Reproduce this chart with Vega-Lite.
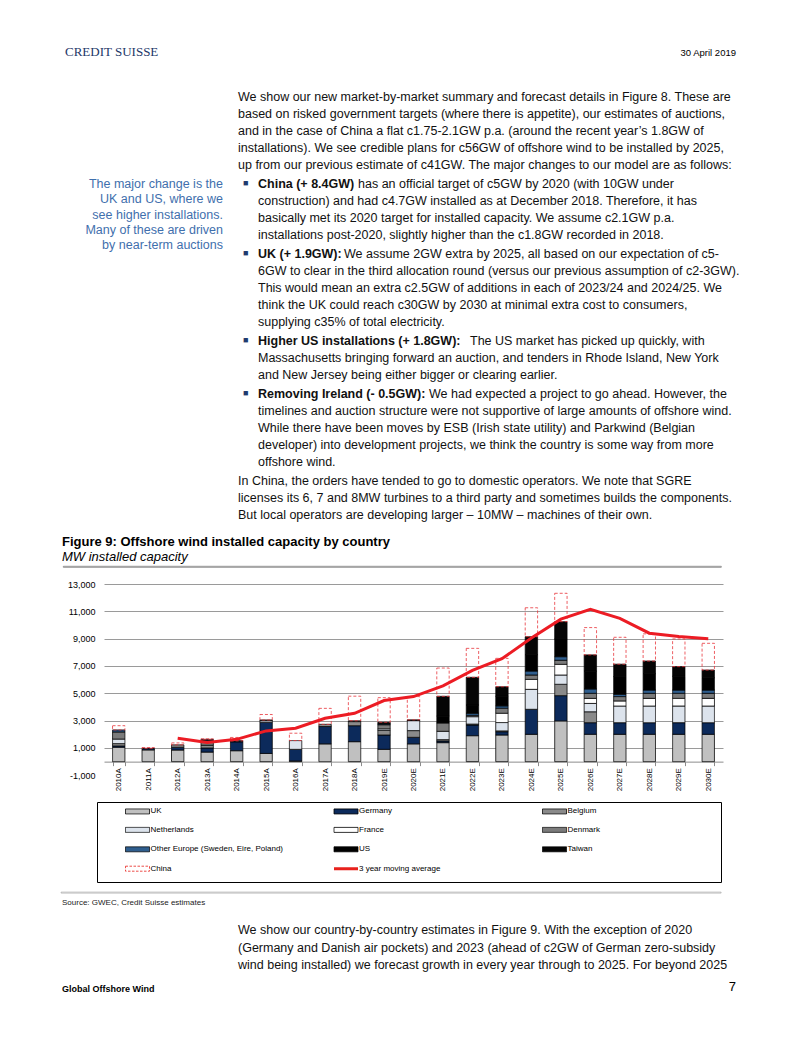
{
"$schema": "https://vega.github.io/schema/vega-lite/v6.json",
"padding": 0,
"background": "white",
"spacing": 0,
"config": {
  "view": {"stroke": null},
  "font": "Liberation Sans",
  "concat": {"spacing": 0},
  "title": {"font": "Liberation Sans", "fontSize": 12.5, "fontWeight": "normal", "color": "#111111", "anchor": "start", "frame": "group", "lineHeight": 17, "subtitleFont": "Liberation Sans", "subtitleFontSize": 12.5, "subtitleColor": "#111111", "subtitleLineHeight": 17},
  "axis": {"labelFont": "Liberation Sans", "labelColor": "#000000"},
  "legend": {"labelFont": "Liberation Sans", "labelColor": "#000000"}
},
"datasets": {
  "series": [
    {"country": "UK", "rank": 1}, {"country": "Germany", "rank": 2}, {"country": "Belgium", "rank": 3},
    {"country": "Netherlands", "rank": 4}, {"country": "France", "rank": 5}, {"country": "Denmark", "rank": 6},
    {"country": "Other Europe (Sweden, Eire, Poland)", "rank": 7}, {"country": "US", "rank": 8},
    {"country": "Taiwan", "rank": 9}, {"country": "China", "rank": 10}
  ],
  "ma": [
    {"year": "2012A", "mw": 1710}, {"year": "2013A", "mw": 1400}, {"year": "2014A", "mw": 1630},
    {"year": "2015A", "mw": 2250}, {"year": "2016A", "mw": 2440}, {"year": "2017A", "mw": 3170},
    {"year": "2018A", "mw": 3540}, {"year": "2019E", "mw": 4470}, {"year": "2020E", "mw": 4760},
    {"year": "2021E", "mw": 5550}, {"year": "2022E", "mw": 6680}, {"year": "2023E", "mw": 7530},
    {"year": "2024E", "mw": 9050}, {"year": "2025E", "mw": 10430}, {"year": "2026E", "mw": 11150},
    {"year": "2027E", "mw": 10490}, {"year": "2028E", "mw": 9400}, {"year": "2029E", "mw": 9150},
    {"year": "2030E", "mw": 8990}
  ],
  "bars": [
    {"year": "2010A", "country": "UK", "mw": 1050}, {"year": "2010A", "country": "Germany", "mw": 100}, {"year": "2010A", "country": "Belgium", "mw": 170}, {"year": "2010A", "country": "Netherlands", "mw": 330}, {"year": "2010A", "country": "Denmark", "mw": 520}, {"year": "2010A", "country": "Other Europe (Sweden, Eire, Poland)", "mw": 150}, {"year": "2010A", "country": "China", "mw": 310},
    {"year": "2011A", "country": "UK", "mw": 860}, {"year": "2011A", "country": "Germany", "mw": 110}, {"year": "2011A", "country": "China", "mw": 60},
    {"year": "2012A", "country": "UK", "mw": 850}, {"year": "2012A", "country": "Germany", "mw": 200}, {"year": "2012A", "country": "Belgium", "mw": 180}, {"year": "2012A", "country": "China", "mw": 140},
    {"year": "2013A", "country": "UK", "mw": 700}, {"year": "2013A", "country": "Germany", "mw": 300}, {"year": "2013A", "country": "Belgium", "mw": 200}, {"year": "2013A", "country": "Denmark", "mw": 350}, {"year": "2013A", "country": "Other Europe (Sweden, Eire, Poland)", "mw": 80}, {"year": "2013A", "country": "China", "mw": 40},
    {"year": "2014A", "country": "UK", "mw": 800}, {"year": "2014A", "country": "Germany", "mw": 650}, {"year": "2014A", "country": "Belgium", "mw": 50}, {"year": "2014A", "country": "Other Europe (Sweden, Eire, Poland)", "mw": 20}, {"year": "2014A", "country": "China", "mw": 250},
    {"year": "2015A", "country": "UK", "mw": 600}, {"year": "2015A", "country": "Germany", "mw": 2280}, {"year": "2015A", "country": "Netherlands", "mw": 120}, {"year": "2015A", "country": "Denmark", "mw": 50}, {"year": "2015A", "country": "China", "mw": 400},
    {"year": "2016A", "country": "UK", "mw": 50}, {"year": "2016A", "country": "Germany", "mw": 850}, {"year": "2016A", "country": "Netherlands", "mw": 640}, {"year": "2016A", "country": "China", "mw": 540},
    {"year": "2017A", "country": "UK", "mw": 1300}, {"year": "2017A", "country": "Germany", "mw": 1270}, {"year": "2017A", "country": "Belgium", "mw": 160}, {"year": "2017A", "country": "China", "mw": 1170},
    {"year": "2018A", "country": "UK", "mw": 1460}, {"year": "2018A", "country": "Germany", "mw": 1170}, {"year": "2018A", "country": "Belgium", "mw": 300}, {"year": "2018A", "country": "Denmark", "mw": 60}, {"year": "2018A", "country": "China", "mw": 1800},
    {"year": "2019E", "country": "UK", "mw": 900}, {"year": "2019E", "country": "Germany", "mw": 1050}, {"year": "2019E", "country": "Belgium", "mw": 330}, {"year": "2019E", "country": "Netherlands", "mw": 120}, {"year": "2019E", "country": "Denmark", "mw": 300}, {"year": "2019E", "country": "Other Europe (Sweden, Eire, Poland)", "mw": 60}, {"year": "2019E", "country": "Taiwan", "mw": 120}, {"year": "2019E", "country": "China", "mw": 1800},
    {"year": "2020E", "country": "UK", "mw": 1300}, {"year": "2020E", "country": "Germany", "mw": 480}, {"year": "2020E", "country": "Belgium", "mw": 490}, {"year": "2020E", "country": "Netherlands", "mw": 730}, {"year": "2020E", "country": "Taiwan", "mw": 60}, {"year": "2020E", "country": "China", "mw": 1700},
    {"year": "2021E", "country": "UK", "mw": 1390}, {"year": "2021E", "country": "Germany", "mw": 120}, {"year": "2021E", "country": "Belgium", "mw": 100}, {"year": "2021E", "country": "Netherlands", "mw": 610}, {"year": "2021E", "country": "Denmark", "mw": 610}, {"year": "2021E", "country": "US", "mw": 500}, {"year": "2021E", "country": "Taiwan", "mw": 1450}, {"year": "2021E", "country": "China", "mw": 2070},
    {"year": "2022E", "country": "UK", "mw": 1900}, {"year": "2022E", "country": "Germany", "mw": 780}, {"year": "2022E", "country": "Belgium", "mw": 70}, {"year": "2022E", "country": "Netherlands", "mw": 540}, {"year": "2022E", "country": "Denmark", "mw": 100}, {"year": "2022E", "country": "Other Europe (Sweden, Eire, Poland)", "mw": 150}, {"year": "2022E", "country": "US", "mw": 600}, {"year": "2022E", "country": "Taiwan", "mw": 2030}, {"year": "2022E", "country": "China", "mw": 2120},
    {"year": "2023E", "country": "UK", "mw": 1950}, {"year": "2023E", "country": "Germany", "mw": 240}, {"year": "2023E", "country": "Belgium", "mw": 60}, {"year": "2023E", "country": "Netherlands", "mw": 610}, {"year": "2023E", "country": "France", "mw": 680}, {"year": "2023E", "country": "Denmark", "mw": 370}, {"year": "2023E", "country": "Other Europe (Sweden, Eire, Poland)", "mw": 170}, {"year": "2023E", "country": "US", "mw": 700}, {"year": "2023E", "country": "Taiwan", "mw": 700}, {"year": "2023E", "country": "China", "mw": 2080},
    {"year": "2024E", "country": "UK", "mw": 2000}, {"year": "2024E", "country": "Germany", "mw": 1830}, {"year": "2024E", "country": "Netherlands", "mw": 1460}, {"year": "2024E", "country": "France", "mw": 730}, {"year": "2024E", "country": "Denmark", "mw": 320}, {"year": "2024E", "country": "Other Europe (Sweden, Eire, Poland)", "mw": 290}, {"year": "2024E", "country": "US", "mw": 1200}, {"year": "2024E", "country": "Taiwan", "mw": 1310}, {"year": "2024E", "country": "China", "mw": 2120},
    {"year": "2025E", "country": "UK", "mw": 2980}, {"year": "2025E", "country": "Germany", "mw": 1850}, {"year": "2025E", "country": "Belgium", "mw": 830}, {"year": "2025E", "country": "Netherlands", "mw": 680}, {"year": "2025E", "country": "France", "mw": 780}, {"year": "2025E", "country": "Denmark", "mw": 300}, {"year": "2025E", "country": "Other Europe (Sweden, Eire, Poland)", "mw": 260}, {"year": "2025E", "country": "US", "mw": 1300}, {"year": "2025E", "country": "Taiwan", "mw": 1260}, {"year": "2025E", "country": "China", "mw": 2080},
    {"year": "2026E", "country": "UK", "mw": 2000}, {"year": "2026E", "country": "Germany", "mw": 850}, {"year": "2026E", "country": "Belgium", "mw": 800}, {"year": "2026E", "country": "Netherlands", "mw": 610}, {"year": "2026E", "country": "France", "mw": 370}, {"year": "2026E", "country": "Denmark", "mw": 370}, {"year": "2026E", "country": "Other Europe (Sweden, Eire, Poland)", "mw": 320}, {"year": "2026E", "country": "US", "mw": 1300}, {"year": "2026E", "country": "Taiwan", "mw": 1190}, {"year": "2026E", "country": "China", "mw": 2000},
    {"year": "2027E", "country": "UK", "mw": 2000}, {"year": "2027E", "country": "Germany", "mw": 850}, {"year": "2027E", "country": "Netherlands", "mw": 1220}, {"year": "2027E", "country": "France", "mw": 370}, {"year": "2027E", "country": "Denmark", "mw": 320}, {"year": "2027E", "country": "Other Europe (Sweden, Eire, Poland)", "mw": 170}, {"year": "2027E", "country": "US", "mw": 1300}, {"year": "2027E", "country": "Taiwan", "mw": 900}, {"year": "2027E", "country": "China", "mw": 1970},
    {"year": "2028E", "country": "UK", "mw": 2000}, {"year": "2028E", "country": "Germany", "mw": 850}, {"year": "2028E", "country": "Netherlands", "mw": 1220}, {"year": "2028E", "country": "France", "mw": 560}, {"year": "2028E", "country": "Denmark", "mw": 370}, {"year": "2028E", "country": "Other Europe (Sweden, Eire, Poland)", "mw": 240}, {"year": "2028E", "country": "US", "mw": 1200}, {"year": "2028E", "country": "Taiwan", "mw": 920}, {"year": "2028E", "country": "China", "mw": 1990},
    {"year": "2029E", "country": "UK", "mw": 2000}, {"year": "2029E", "country": "Germany", "mw": 850}, {"year": "2029E", "country": "Netherlands", "mw": 1220}, {"year": "2029E", "country": "France", "mw": 560}, {"year": "2029E", "country": "Denmark", "mw": 370}, {"year": "2029E", "country": "Other Europe (Sweden, Eire, Poland)", "mw": 240}, {"year": "2029E", "country": "US", "mw": 1000}, {"year": "2029E", "country": "Taiwan", "mw": 710}, {"year": "2029E", "country": "China", "mw": 2030},
    {"year": "2030E", "country": "UK", "mw": 2000}, {"year": "2030E", "country": "Germany", "mw": 850}, {"year": "2030E", "country": "Netherlands", "mw": 1220}, {"year": "2030E", "country": "France", "mw": 560}, {"year": "2030E", "country": "Denmark", "mw": 370}, {"year": "2030E", "country": "Other Europe (Sweden, Eire, Poland)", "mw": 240}, {"year": "2030E", "country": "US", "mw": 900}, {"year": "2030E", "country": "Taiwan", "mw": 560}, {"year": "2030E", "country": "China", "mw": 1960}
  ]
},
"resolve": {"scale": {"color": "independent"}, "legend": {"color": "independent"}},
"vconcat": [
  {"hconcat": [
    {"width": 401, "height": 75, "data": {"values": []}, "mark": {"type": "point", "opacity": 0},
     "title": {"text": "CREDIT SUISSE", "font": "Liberation Serif", "fontSize": 13, "color": "#1d3768", "dx": 65, "offset": -58.9}},
    {"width": 401, "height": 75, "data": {"values": []}, "mark": {"type": "point", "opacity": 0},
     "title": {"text": "30 April 2019", "fontSize": 9.5, "color": "#000000", "anchor": "end", "dx": -66, "offset": -57}}
  ]},
  {"width": 802, "height": 97, "data": {"values": []}, "mark": {"type": "point", "opacity": 0},
   "title": {"text": [
     "We show our new market-by-market summary and forecast details in Figure 8. These are",
     "based on risked government targets (where there is appetite), our estimates of auctions,",
     "and in the case of China a flat c1.75-2.1GW p.a. (around the recent year\u2019s 1.8GW of",
     "installations). We see credible plans for c56GW of offshore wind to be installed by 2025,",
     "up from our previous estimate of c41GW. The major changes to our model are as follows:"
   ], "dx": 238, "offset": -96.6}},
  {"hconcat": [
    {"width": 225, "height": 297, "data": {"values": []}, "mark": {"type": "point", "opacity": 0},
     "title": {"text": ["The major change is the", "UK and US, where we", "see higher installations.", "Many of these are driven", "by near-term auctions"],
       "anchor": "end", "dx": -2, "offset": -79.8, "color": "#3f6fad", "lineHeight": 15.3}},
    {"vconcat": [
      {"hconcat": [
        {"width": 33, "height": 76, "data": {"values": []}, "mark": {"type": "point", "opacity": 0},
         "title": {"text": "\u25a0", "fontSize": 9, "color": "#1f3b6e", "dx": 18, "offset": -16.1}},
        {"vconcat": [
          {"hconcat": [
            {"width": 100, "height": 19, "data": {"values": []}, "mark": {"type": "point", "opacity": 0},
             "title": {"text": "China (+ 8.4GW)", "fontWeight": "bold", "offset": -18.6}},
            {"width": 405, "height": 19, "data": {"values": []}, "mark": {"type": "point", "opacity": 0},
             "title": {"text": "has an official target of c5GW by 2020 (with 10GW under", "offset": -18.6}}
          ]},
          {"width": 505, "height": 57, "data": {"values": []}, "mark": {"type": "point", "opacity": 0},
           "title": {"text": [
             "construction) and had c4.7GW installed as at December 2018. Therefore, it has",
             "basically met its 2020 target for installed capacity. We assume c2.1GW p.a.",
             "installations post-2020, slightly higher than the c1.8GW recorded in 2018."
           ], "offset": -50.6}}
        ]}
      ]},
      {"hconcat": [
        {"width": 33, "height": 87, "data": {"values": []}, "mark": {"type": "point", "opacity": 0},
         "title": {"text": "\u25a0", "fontSize": 9, "color": "#1f3b6e", "dx": 18, "offset": -10}},
        {"vconcat": [
          {"hconcat": [
            {"width": 86, "height": 17, "data": {"values": []}, "mark": {"type": "point", "opacity": 0},
             "title": {"text": "UK (+ 1.9GW):", "fontWeight": "bold", "offset": -12.6}},
            {"width": 419, "height": 17, "data": {"values": []}, "mark": {"type": "point", "opacity": 0},
             "title": {"text": "We assume 2GW extra by 2025, all based on our expectation of c5-", "offset": -12.6}}
          ]},
          {"width": 505, "height": 70, "data": {"values": []}, "mark": {"type": "point", "opacity": 0},
           "title": {"text": [
             "6GW to clear in the third allocation round (versus our previous assumption of c2-3GW).",
             "This would mean an extra c2.5GW of additions in each of 2023/24 and 2024/25. We",
             "think the UK could reach c30GW by 2030 at minimal extra cost to consumers,",
             "supplying c35% of total electricity."
           ], "offset": -63.6}}
        ]}
      ]},
      {"hconcat": [
        {"width": 33, "height": 53, "data": {"values": []}, "mark": {"type": "point", "opacity": 0},
         "title": {"text": "\u25a0", "fontSize": 9, "color": "#1f3b6e", "dx": 18, "offset": -10}},
        {"vconcat": [
          {"hconcat": [
            {"width": 212, "height": 17, "data": {"values": []}, "mark": {"type": "point", "opacity": 0},
             "title": {"text": "Higher US installations (+ 1.8GW):", "fontWeight": "bold", "offset": -12.6}},
            {"width": 293, "height": 17, "data": {"values": []}, "mark": {"type": "point", "opacity": 0},
             "title": {"text": "The US market has picked up quickly, with", "offset": -12.6}}
          ]},
          {"width": 505, "height": 36, "data": {"values": []}, "mark": {"type": "point", "opacity": 0},
           "title": {"text": [
             "Massachusetts bringing forward an auction, and tenders in Rhode Island, New York",
             "and New Jersey being either bigger or clearing earlier."
           ], "offset": -29.6}}
        ]}
      ]},
      {"hconcat": [
        {"width": 33, "height": 81, "data": {"values": []}, "mark": {"type": "point", "opacity": 0},
         "title": {"text": "\u25a0", "fontSize": 9, "color": "#1f3b6e", "dx": 18, "offset": -10}},
        {"vconcat": [
          {"hconcat": [
            {"width": 171, "height": 17, "data": {"values": []}, "mark": {"type": "point", "opacity": 0},
             "title": {"text": "Removing Ireland (- 0.5GW):", "fontWeight": "bold", "offset": -12.6}},
            {"width": 334, "height": 17, "data": {"values": []}, "mark": {"type": "point", "opacity": 0},
             "title": {"text": "We had expected a project to go ahead. However, the", "offset": -12.6}}
          ]},
          {"width": 505, "height": 64, "data": {"values": []}, "mark": {"type": "point", "opacity": 0},
           "title": {"text": [
             "timelines and auction structure were not supportive of large amounts of offshore wind.",
             "While there have been moves by ESB (Irish state utility) and Parkwind (Belgian",
             "developer) into development projects, we think the country is some way from more",
             "offshore wind."
           ], "offset": -63.6}}
        ]}
      ]}
    ]}
  ]},
  {"width": 802, "height": 61, "data": {"values": []}, "mark": {"type": "point", "opacity": 0},
   "title": {"text": [
     "In China, the orders have tended to go to domestic operators. We note that SGRE",
     "licenses its 6, 7 and 8MW turbines to a third party and sometimes builds the components.",
     "But local operators are developing larger \u2013 10MW \u2013 machines of their own."
   ], "dx": 238, "offset": -52.6}},
  {"hconcat": [
    {"width": 62, "height": 35, "data": {"values": []}, "mark": {"type": "point", "opacity": 0}},
    {"width": 658, "height": 35, "data": {"values": []}, "mark": {"type": "point", "opacity": 0},
     "title": {"text": "Figure 9: Offshore wind installed capacity by country", "fontSize": 13, "fontWeight": "bold", "color": "#000000",
       "subtitle": "MW installed capacity", "subtitleFontSize": 13, "subtitleFontStyle": "italic", "subtitleColor": "#000000", "subtitlePadding": 2, "offset": -33.9}}
  ]},
  {"hconcat": [
    {"width": 62, "height": 1, "data": {"values": []}, "mark": {"type": "point", "opacity": 0}},
    {"width": 658, "height": 1, "data": {"values": []}, "mark": {"type": "point", "opacity": 0}, "view": {"stroke": "#7f7f7f", "strokeWidth": 0.8}}
  ]},
  {"width": 10, "height": 12, "data": {"values": []}, "mark": {"type": "point", "opacity": 0}},
  {"hconcat": [
    {"width": 66.5, "height": 10, "data": {"values": []}, "mark": {"type": "point", "opacity": 0}},
    {"width": 619, "height": 191.3,
     "encoding": {
       "x": {"field": "year", "type": "ordinal",
         "scale": {"domain": ["2010A","2011A","2012A","2013A","2014A","2015A","2016A","2017A","2018A","2019E","2020E","2021E","2022E","2023E","2024E","2025E","2026E","2027E","2028E","2029E","2030E"], "paddingInner": 0.58, "paddingOuter": 0.29},
         "axis": {"title": null, "labelAngle": -90, "labelFontSize": 8, "labelPadding": 2, "offset": -13.66, "domainColor": "#8c8c8c", "tickColor": "#8c8c8c", "tickSize": 4, "tickBand": "extent", "grid": false}},
       "y": {"field": "mw", "type": "quantitative",
         "scale": {"domain": [-1000, 13000], "nice": false, "zero": false},
         "axis": {"title": null, "values": [-1000, 1000, 3000, 5000, 7000, 9000, 11000, 13000], "format": ",d", "labelExpr": "replace(datum.label, '\u2212', '-')", "labelFontSize": 9, "labelPadding": 9, "ticks": false, "domain": false, "grid": true, "gridColor": "#9a9a9a",
           "gridOpacity": {"condition": {"test": "datum.value === -1000", "value": 0}, "value": 1}}}
     },
     "layer": [
       {"data": {"name": "bars"},
        "transform": [{"lookup": "country", "from": {"data": {"name": "series"}, "key": "country", "fields": ["rank"]}}],
        "mark": {"type": "bar", "strokeWidth": 0.8},
        "encoding": {
          "color": {"field": "country", "type": "nominal",
            "scale": {"domain": ["UK","Germany","Belgium","Netherlands","France","Denmark","Other Europe (Sweden, Eire, Poland)","US","Taiwan","China","3 year moving average"],
                      "range": ["#c0c0c0","#0c2a5b","#8a8a8a","#dce3ec","#ffffff","#7b7b7b","#2f5e8e","#000000","#050505","#ffffff","#ec1c24"]},
            "legend": null},
          "stroke": {"condition": {"test": "datum.country === 'China'", "value": "#e8353b"}, "value": "#000000"},
          "strokeDash": {"condition": {"test": "datum.country === 'China'", "value": [3, 2]}, "value": [1, 0]},
          "fillOpacity": {"condition": {"test": "datum.country === 'China'", "value": 0}, "value": 1},
          "order": {"field": "rank", "type": "quantitative", "sort": "ascending"}
        }},
       {"data": {"name": "ma"}, "mark": {"type": "line", "color": "#ec1c24", "strokeWidth": 3}, "encoding": {}}
     ]}
  ], "resolve": {"scale": {"color": "independent"}, "legend": {"color": "independent"}}},
  {"width": 10, "height": 9.5, "data": {"values": []}, "mark": {"type": "point", "opacity": 0}},
  {"hconcat": [
    {"width": 96, "height": 10, "data": {"values": []}, "mark": {"type": "point", "opacity": 0}},
    {"width": 624, "height": 80, "data": {"values": []}, "mark": "bar",
     "view": {"stroke": "#000000", "strokeWidth": 1},
     "encoding": {
       "color": {"field": "country", "type": "nominal",
         "scale": {"domain": ["UK","Germany","Belgium","Netherlands","France","Denmark","Other Europe (Sweden, Eire, Poland)","US","Taiwan","China","3 year moving average"],
                   "range": ["#c0c0c0","#0c2a5b","#8a8a8a","#dce3ec","#ffffff","#7b7b7b","#2f5e8e","#000000","#050505","#ffffff","#ec1c24"]},
         "legend": {"orient": "none", "legendX": 29.5, "legendY": 4.5, "columns": 3, "direction": "horizontal", "title": null,
           "symbolSize": 100, "labelOffset": 16, "labelFontSize": 8, "rowPadding": 7.4, "columnPadding": 44.5, "gridAlign": "all", "padding": 0,
           "encode": {"symbols": {"update": {
             "shape": {"signal": "datum.value === '3 year moving average' ? 'M-1,0H3.8' : 'M-1,-0.5H3.8V0.5H-1Z'"},
             "stroke": {"signal": "(datum.value === '3 year moving average' || datum.value === 'China') ? '#e8211c' : '#000000'"},
             "strokeWidth": {"signal": "datum.value === '3 year moving average' ? 3 : 0.8"},
             "strokeDash": {"signal": "datum.value === 'China' ? [2.5, 1.5] : [1, 0]"},
             "opacity": {"value": 1}
           }}}}}
     }}
  ], "resolve": {"scale": {"color": "independent"}, "legend": {"color": "independent"}}},
  {"width": 10, "height": 8, "data": {"values": []}, "mark": {"type": "point", "opacity": 0}},
  {"hconcat": [
    {"width": 60, "height": 1, "data": {"values": []}, "mark": {"type": "point", "opacity": 0}},
    {"width": 660, "height": 1, "data": {"values": []}, "mark": {"type": "point", "opacity": 0}, "view": {"stroke": "#9a9a9a", "strokeWidth": 0.6}}
  ]},
  {"width": 802, "height": 24, "data": {"values": []}, "mark": {"type": "point", "opacity": 0},
   "title": {"text": "Source: GWEC, Credit Suisse estimates", "fontSize": 8, "color": "#222222", "dx": 62, "offset": -13.2}},
  {"width": 802, "height": 58, "data": {"values": []}, "mark": {"type": "point", "opacity": 0},
   "title": {"text": [
     "We show our country-by-country estimates in Figure 9. With the exception of 2020",
     "(Germany and Danish air pockets) and 2023 (ahead of c2GW of German zero-subsidy",
     "wind being installed) we forecast growth in every year through to 2025. For beyond 2025"
   ], "lineHeight": 17.5, "dx": 238, "offset": -53.6}},
  {"hconcat": [
    {"width": 401, "height": 67, "data": {"values": []}, "mark": {"type": "point", "opacity": 0},
     "title": {"text": "Global Offshore Wind", "fontSize": 9, "fontWeight": "bold", "color": "#000000", "dx": 62, "offset": -17.8}},
    {"width": 401, "height": 67, "data": {"values": []}, "mark": {"type": "point", "opacity": 0},
     "title": {"text": "7", "fontSize": 13, "color": "#000000", "anchor": "end", "dx": -66, "offset": -17.9}}
  ]}
]
}
